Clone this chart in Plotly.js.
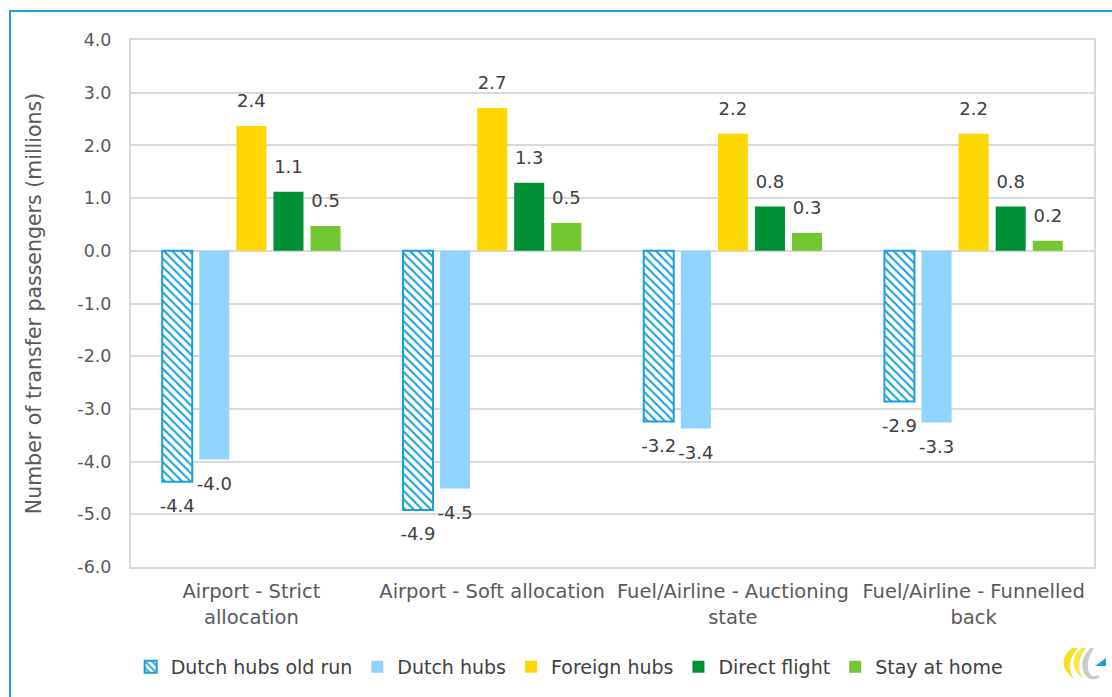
<!DOCTYPE html>
<html>
<head>
<meta charset="utf-8">
<script src="https://cdn.plot.ly/plotly-3.0.1.min.js"></script>
<style>
html,body{margin:0;padding:0;overflow:hidden;background:#fff;}
#wrap{position:relative;width:1112px;height:697px;}
#chart{width:1112px;height:697px;}
#frame{position:absolute;left:9px;top:10px;width:1200px;height:800px;border:2px solid #1a9fdb;pointer-events:none;box-sizing:border-box;}
#logo{position:absolute;left:1054px;top:644px;width:56px;height:42px;}
</style>
</head>
<body>
<div id="wrap">
<div id="chart"></div>
<div id="frame"></div>
<svg id="logo" viewBox="0 0 56 42">
  <path d="M18 4 Q0 19 20 35 Q10 19 24 4 Z" fill="#f3e21c"/>
  <path d="M27 4 Q11 19 29 35 Q20 19 32 4 Z" fill="#f6e84a"/>
  <path d="M36 4 Q22 20 33 33 Q38 38 46 33 L44 31 Q38 34 36 30 Q30 20 40 4 Z" fill="#c9c9c9"/>
  <path d="M41 22 L52 22 L52 14 Z" fill="#1a9fdb"/>
</svg>
</div>
<script>
const categories = ["Airport - Strict<br>allocation", "Airport - Soft allocation", "Fuel/Airline - Auctioning<br>state", "Fuel/Airline - Funnelled<br>back"];
const seriesNames = ["Dutch hubs old run", "Dutch hubs", "Foreign hubs", "Direct flight", "Stay at home"];
const dutchHubsOldRun = [-4.38, -4.92, -3.24, -2.86];
const dutchHubs = [-3.96, -4.51, -3.37, -3.26];
const foreignHubs = [2.37, 2.71, 2.22, 2.22];
const directFlight = [1.12, 1.29, 0.84, 0.84];
const stayAtHome = [0.47, 0.53, 0.34, 0.19];
const yTickValues = [-6, -5, -4, -3, -2, -1, 0, 1, 2, 3, 4];

const font = "DejaVu Sans, Verdana, sans-serif";
const labelFont = {family: font, size: 18, color: "#404040"};
const seriesColors = ["#ffffff", "#8fd3fe", "#ffd700", "#009036", "#71c72f"];
const seriesValues = [dutchHubsOldRun, dutchHubs, foreignHubs, directFlight, stayAtHome];

const traces = [];
seriesValues.forEach((vals, i) => {
  const marker = i === 0
    ? {color: "#ffffff", line: {color: "#1a9fdb", width: 2},
       pattern: {shape: "\\", fgcolor: "#1a9fdb", bgcolor: "#ffffff", size: 6, solidity: 0.35}}
    : {color: seriesColors[i], line: {width: 0}};
  traces.push({
    type: "bar", name: seriesNames[i], x: categories, y: vals,
    marker: marker, offsetgroup: "g" + i, hoverinfo: "y"
  });
});
// data labels, grouped like the bars
seriesValues.forEach((vals, i) => {
  traces.push({
    type: "scatter", mode: "markers+text", showlegend: false,
    x: categories, y: vals, offsetgroup: "g" + i,
    text: vals.map(v => v.toFixed(1)),
    textposition: vals.map(v => v >= 0 ? "top center" : "bottom center"),
    textfont: labelFont, cliponaxis: false,
    marker: {size: vals.map(v => v >= 0 ? 21 : 25), opacity: 0, color: "#000"},
    hoverinfo: "skip"
  });
});

const layout = {
  width: 1112, height: 697,
  margin: {l: 131, r: 18, t: 40, b: 129},
  paper_bgcolor: "rgba(0,0,0,0)", plot_bgcolor: "#ffffff",
  barmode: "group", bargap: 0.23, bargroupgap: 0.19,
  scattermode: "group", scattergap: 0.23,
  font: {family: font, size: 17, color: "#595959"},
  showlegend: true,
  legend: {orientation: "h", x: 0.455, xanchor: "center", y: -0.1875, yanchor: "middle",
    font: {family: font, size: 19, color: "#404040"}, itemwidth: 30, traceorder: "normal"},
  xaxis: {
    type: "category", showgrid: false, zeroline: false,
    showline: true, mirror: true, linecolor: "#d9d9d9", linewidth: 2,
    ticks: "", ticklabelstandoff: 6, tickfont: {family: font, size: 19.5, color: "#595959"}
  },
  yaxis: {
    range: [-6, 4], tickvals: yTickValues, ticktext: yTickValues.map(v => v.toFixed(1)),
    showgrid: true, gridcolor: "#d9d9d9", gridwidth: 2,
    zeroline: true, zerolinecolor: "#d9d9d9", zerolinewidth: 2,
    showline: true, mirror: true, linecolor: "#d9d9d9", linewidth: 2,
    ticks: "", ticklabelstandoff: 14,
    tickfont: {family: font, size: 17.5, color: "#595959"},
    title: {text: "Number of transfer passengers (millions)", standoff: 30,
      font: {family: font, size: 20.5, color: "#595959"}}
  }
};

Plotly.newPlot("chart", traces, layout, {displayModeBar: false, staticPlot: true});
</script>
</body>
</html>
